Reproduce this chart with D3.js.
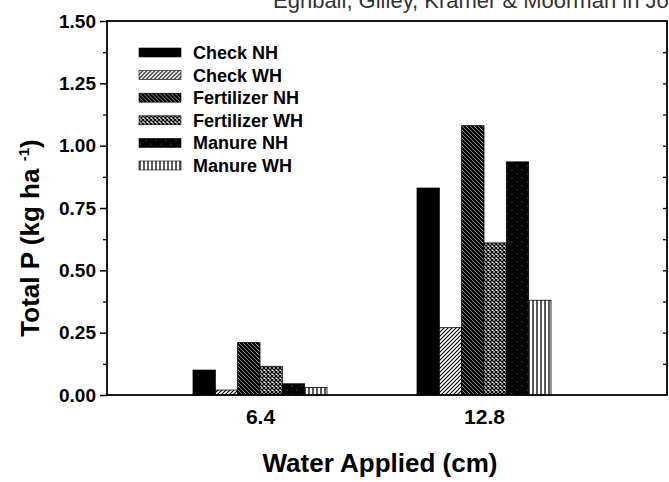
<!DOCTYPE html>
<html>
<head>
<meta charset="utf-8">
<script src="https://cdn.jsdelivr.net/npm/d3@7"></script>
<style>
  html, body { margin: 0; padding: 0; background: #fff; }
  svg { display: block; }
  text { font-family: "Liberation Sans", Arial, Helvetica, sans-serif; }
</style>
</head>
<body>
<svg id="chart" width="669" height="482"></svg>
<script>
// ---- data ----
const categories = ["6.4", "12.8"];
const seriesNames = ["Check NH", "Check WH", "Fertilizer NH", "Fertilizer WH", "Manure NH", "Manure WH"];
const checkNH     = [0.10, 0.83];
const checkWH     = [0.02, 0.27];
const fertNH      = [0.21, 1.08];
const fertWH      = [0.115, 0.61];
const manureNH    = [0.045, 0.935];
const manureWH    = [0.03, 0.38];
const yTicks      = [0, 0.25, 0.5, 0.75, 1.0, 1.25, 1.5];
const yMinorTicks = [0.125, 0.375, 0.625, 0.875, 1.125, 1.375];
const seriesValues = [checkNH, checkWH, fertNH, fertWH, manureNH, manureWH];
const patternIds = ["pSolid", "pDiag", "pFertNH", "pCross", "pManNH", "pVert"];

const svg = d3.select("#chart");
const plot = { left: 107, right: 667, top: 21, bottom: 395 };

// ---- patterns ----
const defs = svg.append("defs");
defs.append("pattern").attr("id", "pSolid").attr("patternUnits", "userSpaceOnUse")
  .attr("width", 4).attr("height", 4)
  .append("rect").attr("width", 4).attr("height", 4).attr("fill", "#000");
{
  const p = defs.append("pattern").attr("id", "pDiag").attr("patternUnits", "userSpaceOnUse")
    .attr("width", 4).attr("height", 4);
  p.append("rect").attr("width", 4).attr("height", 4).attr("fill", "#fff");
  p.append("path").attr("d", "M-1,1 L1,-1 M0,4 L4,0 M3,5 L5,3").attr("stroke", "#000").attr("stroke-width", 1.1);
}
{
  const p = defs.append("pattern").attr("id", "pFertNH").attr("patternUnits", "userSpaceOnUse")
    .attr("width", 4).attr("height", 4);
  p.append("rect").attr("width", 4).attr("height", 4).attr("fill", "#000");
  p.append("path").attr("d", "M-1,3 L1,5 M0,0 L4,4 M3,-1 L5,1").attr("stroke", "#fff").attr("stroke-width", 0.55);
}
{
  const p = defs.append("pattern").attr("id", "pCross").attr("patternUnits", "userSpaceOnUse")
    .attr("width", 4).attr("height", 4);
  p.append("rect").attr("width", 4).attr("height", 4).attr("fill", "#fff");
  p.append("path").attr("d", "M0,0 L4,4 M4,0 L0,4").attr("stroke", "#000").attr("stroke-width", 1.3);
}
{
  const p = defs.append("pattern").attr("id", "pManNH").attr("patternUnits", "userSpaceOnUse")
    .attr("width", 10).attr("height", 8);
  p.append("rect").attr("width", 10).attr("height", 8).attr("fill", "#000");
  p.append("path").attr("d", "M1,2 L3,2 M6,6 L8,6").attr("stroke", "#fff").attr("stroke-width", 0.5).attr("opacity", 0.5);
}
{
  const p = defs.append("pattern").attr("id", "pVert").attr("patternUnits", "userSpaceOnUse")
    .attr("width", 4).attr("height", 4);
  p.append("rect").attr("width", 4).attr("height", 4).attr("fill", "#fff");
  p.append("path").attr("d", "M1,0 L1,4").attr("stroke", "#000").attr("stroke-width", 1.3);
}

// ---- scales ----
const y = d3.scaleLinear().domain([0, 1.5]).range([plot.bottom, plot.top]);
const x0 = d3.scalePoint().domain(categories).range([260, 484]);
const x1 = d3.scaleBand().domain(seriesNames).range([-67, 67]).padding(0);

// ---- bars ----
const barData = [];
seriesNames.forEach((s, si) => {
  categories.forEach((c, ci) => {
    barData.push({ s, si, c, v: seriesValues[si][ci] });
  });
});
svg.append("g").selectAll("rect").data(barData).join("rect")
  .attr("x", d => x0(d.c) + x1(d.s))
  .attr("y", d => y(d.v))
  .attr("width", x1.bandwidth())
  .attr("height", d => y(0) - y(d.v))
  .attr("fill", d => `url(#${patternIds[d.si]})`)
  .attr("stroke", "#000").attr("stroke-width", 0.8);

// ---- axes ----
const yAxisL = d3.axisLeft(y).tickValues(yTicks).tickFormat(d3.format(".2f")).tickSize(7).tickPadding(4);
const gL = svg.append("g").attr("transform", `translate(${plot.left},0)`).call(yAxisL);
gL.select(".domain").remove();
gL.selectAll("line").attr("stroke", "#000").attr("stroke-width", 1.5);
gL.selectAll("text").attr("font-size", 19).attr("font-weight", "bold").attr("fill", "#000")
  .attr("font-family", '"Liberation Sans", Arial, sans-serif');

const yAxisLMinor = d3.axisLeft(y).tickValues(yMinorTicks).tickFormat("").tickSize(4);
const gLm = svg.append("g").attr("transform", `translate(${plot.left},0)`).call(yAxisLMinor);
gLm.select(".domain").remove();
gLm.selectAll("line").attr("stroke", "#000").attr("stroke-width", 1.3);

const yAxisR = d3.axisRight(y).tickValues(yMinorTicks.concat(yTicks.slice(1, -1))).tickFormat("").tickSize(-4);
const gR = svg.append("g").attr("transform", `translate(${plot.right},0)`).call(yAxisR);
gR.select(".domain").remove();
gR.selectAll("line").attr("stroke", "#000").attr("stroke-width", 1.3);

const xAxis = d3.axisBottom(x0).tickSize(0).tickPadding(14);
const gX = svg.append("g").attr("transform", `translate(0,${plot.bottom})`).call(xAxis);
gX.select(".domain").remove();
gX.selectAll("text").attr("font-size", 21).attr("font-weight", "bold").attr("fill", "#000")
  .attr("font-family", '"Liberation Sans", Arial, sans-serif');

// frame
svg.append("rect")
  .attr("x", plot.left).attr("y", plot.top)
  .attr("width", plot.right - plot.left).attr("height", plot.bottom - plot.top)
  .attr("fill", "none").attr("stroke", "#000").attr("stroke-width", 1.8);

// ---- titles ----
svg.append("text").attr("x", 380).attr("y", 472).attr("text-anchor", "middle")
  .attr("font-size", 26).attr("font-weight", "bold").text("Water Applied (cm)");

const yt = svg.append("text").attr("transform", "translate(39,238) rotate(-90)")
  .attr("text-anchor", "middle").attr("font-size", 26).attr("font-weight", "bold");
yt.append("tspan").text("Total P (kg ha ");
yt.append("tspan").attr("font-size", 15).attr("dy", -10).text("-1");
yt.append("tspan").attr("dy", 10).text(")");

svg.append("text").attr("x", 273).attr("y", 8).attr("font-size", 22).attr("fill", "#333")
  .text("Eghbali, Gilley, Kramer & Moorman in Journal of Environmental Quality");

// ---- legend ----
const legend = svg.append("g").selectAll("g").data(seriesNames).join("g")
  .attr("transform", (d, i) => `translate(139,${52 + i * 22.6})`);
legend.append("rect").attr("x", 0).attr("y", -4).attr("width", 42).attr("height", 9)
  .attr("fill", (d, i) => `url(#${patternIds[i]})`).attr("stroke", "#000").attr("stroke-width", 0.6);
legend.append("text").attr("x", 54).attr("y", 7).attr("font-size", 18).attr("font-weight", "bold")
  .text(d => d);
</script>
</body>
</html>
